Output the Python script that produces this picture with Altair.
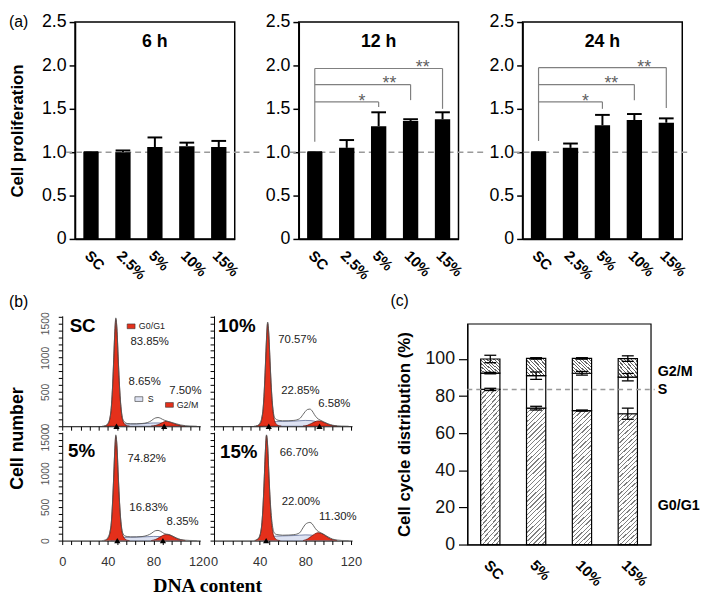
import altair as alt
import pandas as pd

SANS = "Liberation Sans"
SERIF = "Liberation Serif"
RED = "#e4301b"
RED_EDGE = "#5e0c00"
S_FILL = "#dde2f2"
S_EDGE = "#4a5a8a"
BRACKET = "#808080"

# ---------------- (a) cell proliferation ----------------
a_cats = ["SC", "2.5%", "5%", "10%", "15%"]
a_mean_6h = [1.00, 1.00, 1.06, 1.07, 1.06]
a_err_6h = [0.00, 0.02, 0.11, 0.04, 0.07]
a_mean_12h = [1.00, 1.05, 1.30, 1.36, 1.38]
a_err_12h = [0.00, 0.09, 0.16, 0.02, 0.08]
a_mean_24h = [1.00, 1.05, 1.31, 1.37, 1.34]
a_err_24h = [0.00, 0.05, 0.12, 0.07, 0.05]

sig_targets = ["5%", "10%", "15%"]
sig_marks = ["*", "**", "**"]
sig_12h_level = [1.58, 1.78, 1.965]
sig_12h_end = [1.52, 1.60, 1.50]
sig_12h_star_x = [1.48, 2.34, 3.38]
sig_12h_start = 1.12
sig_24h_level = [1.58, 1.78, 1.975]
sig_24h_end = [1.50, 1.60, 1.51]
sig_24h_star_x = [1.47, 2.28, 3.31]
sig_24h_start = 1.13

# ---------------- (b) DNA histograms ----------------
tot_x = [35, 38, 40, 42, 43, 44, 45, 46, 47, 48, 49, 50, 51, 52, 53, 55, 57, 60, 65, 70,
         75, 78, 80, 82, 84, 86, 88, 90, 93, 96, 100, 104, 108, 112, 118]
sc_tot_y = [0, 10, 40, 140, 275, 540, 920, 1340, 1580, 1420, 1040, 670, 390, 210, 110, 55, 40, 35, 35, 40,
            55, 80, 105, 122, 127, 118, 100, 85, 70, 55, 35, 18, 8, 3, 0]
p10_tot_y = [0, 10, 40, 135, 255, 510, 880, 1280, 1520, 1360, 1000, 640, 375, 210, 130, 95, 85, 80, 80, 85,
             110, 170, 215, 245, 250, 225, 170, 125, 90, 65, 35, 15, 6, 2, 0]
p5_tot_y = [0, 10, 45, 145, 265, 530, 900, 1320, 1570, 1410, 1030, 660, 380, 205, 115, 70, 60, 55, 55, 60,
            80, 105, 130, 148, 151, 140, 120, 100, 92, 72, 40, 15, 6, 2, 0]
p15_tot_y = [0, 20, 70, 270, 530, 910, 1330, 1570, 1420, 1040, 680, 420, 250, 150, 110, 90, 85, 80, 82, 88,
             115, 190, 240, 262, 270, 250, 200, 155, 120, 95, 55, 22, 8, 2, 0]

g1_x = [37, 39, 41, 42, 43, 44, 45, 46, 47, 48, 49, 50, 51, 52, 53, 55, 57, 59]
sc_g1_y = [0, 15, 60, 130, 260, 520, 900, 1320, 1560, 1400, 1020, 650, 370, 190, 90, 25, 5, 0]
p10_g1_y = [0, 15, 55, 120, 240, 490, 860, 1260, 1500, 1340, 980, 620, 350, 180, 85, 25, 5, 0]
p5_g1_y = [0, 15, 60, 130, 250, 510, 880, 1300, 1550, 1390, 1010, 640, 360, 185, 90, 25, 5, 0]
p15_g1_x = [36, 38, 40, 41, 42, 43, 44, 45, 46, 47, 48, 49, 50, 51, 52, 54, 56, 58]
p15_g1_y = [0, 15, 60, 130, 260, 520, 900, 1320, 1560, 1400, 1020, 650, 370, 190, 90, 25, 5, 0]

g2_x = [78, 82, 85, 88, 91, 94, 97, 100, 104, 108]
sc_g2_y = [0, 12, 30, 55, 72, 62, 45, 28, 8, 0]
p10_g2_y = [0, 15, 38, 62, 78, 72, 52, 30, 10, 0]
p5_g2_y = [0, 18, 45, 75, 90, 85, 62, 35, 12, 0]
p15_g2_y = [0, 25, 60, 95, 117, 108, 80, 45, 15, 0]

s_x = [43, 47, 50, 55, 60, 65, 70, 75, 80, 85, 90, 95, 100, 104]
sc_s_y = [0, 25, 30, 32, 34, 34, 37, 42, 48, 48, 40, 25, 8, 0]
p10_s_y = [0, 45, 62, 68, 70, 72, 75, 80, 85, 82, 65, 38, 12, 0]
p5_s_y = [0, 35, 45, 48, 50, 52, 55, 58, 62, 60, 48, 28, 9, 0]
p15_s_y = [0, 45, 60, 66, 70, 72, 75, 80, 85, 82, 66, 40, 12, 0]

sc_peaks = [47.6, 89.4]
p10_peaks = [48.0, 92.5]
p5_peaks = [48.3, 88.3]
p15_peaks = [45.7]

sc_pct = ["83.85%", "8.65%", "7.50%"]
sc_pct_x = [76.6, 72.3, 108.0]
sc_pct_y = [1230, 641, 513]
p10_pct = ["70.57%", "22.85%", "6.58%"]
p10_pct_x = [73.2, 75.7, 105.5]
p10_pct_y = [1254, 519, 317]
p5_pct = ["74.82%", "16.83%", "8.35%"]
p5_pct_x = [74.0, 75.7, 105.5]
p5_pct_y = [1212, 481, 269]
p15_pct = ["66.70%", "22.00%", "11.30%"]
p15_pct_x = [74.5, 76.2, 108.5]
p15_pct_y = [1297, 566, 354]

legend_labels = ["G0/G1", "S", "G2/M"]
legend_fill = [RED, S_FILL, RED]
legend_x = [60.4, 67.2, 94.0]
legend_tx = [67.2, 74.9, 100.4]
legend_y = [1457, 396, 311]

# ---------------- (c) cell cycle distribution ----------------
c_cats = ["SC", "5%", "10%", "15%"]
c_g0g1 = [83.6, 73.5, 72.2, 70.5]
c_s = [8.8, 17.5, 20.1, 19.7]
c_g2m = [7.6, 9.3, 8.0, 10.0]
c_err_g0g1 = [0.6, 1.0, 0.3, 3.0]
c_err_s = [0.4, 2.0, 1.0, 2.0]
c_err_g2m = [2.0, 0.4, 0.4, 1.5]
c_phase_names = ["G2/M", "S", "G0/G1"]
c_phase_label_y = [93.0, 83.0, 21.0]


def cat_expr(cats):
    return "[" + ",".join("'" + c + "'" for c in cats) + "][datum.value]"


def spacer(w, h):
    return (alt.Chart(pd.DataFrame({"v": [0]})).mark_point(opacity=0, size=1)
            .encode(x=alt.value(0), y=alt.value(0)).properties(width=w, height=h))


# ======================= (a) panels =======================
A_W, A_H = 162, 220


def panel_a(title, means, errs, first=False, sig=None, dash_right=28):
    n = len(a_cats)
    xax = alt.Axis(values=list(range(n)), labelExpr=cat_expr(a_cats), labelAngle=45,
                   labelAlign="left", labelBaseline="middle", labelPadding=14, labelOffset=-4,
                   labelFontSize=15, labelFontWeight="bold", labelColor="black", labelFlush=False,
                   labelOverlap=False, ticks=False, grid=False, domainColor="black", domainWidth=1.5,
                   title=None)
    ykw = dict(values=[0, 0.5, 1.0, 1.5, 2.0, 2.5],
               labelExpr="datum.value == 0 ? '0' : format(datum.value, '.1f')",
               labelFontSize=18, labelColor="black", labelPadding=3, tickSize=6,
               tickColor="black", tickWidth=1.5, domainColor="black", domainWidth=1.5,
               grid=False, labelFlush=False, labelOverlap=False)
    if first:
        yax = alt.Axis(title="Cell proliferation", titleFontSize=17, titleFontWeight="bold",
                       titleColor="black", titleX=-58, titleBaseline="middle", titleAngle=270,
                       titleAlign="center", **ykw)
    else:
        yax = alt.Axis(title=None, **ykw)
    xs = alt.Scale(domain=[-0.5, n - 0.5], nice=False, zero=False)
    ys = alt.Scale(domain=[0, 2.5], nice=False, zero=True)

    def X(f):
        return alt.X(f, scale=xs, axis=xax)

    def Y(f):
        return alt.Y(f, scale=ys, axis=yax)

    df = pd.DataFrame({"cat": a_cats, "idx": list(range(n)), "mean": means, "err": errs})
    df["top"] = df["mean"] + df["err"]
    df["zero"] = 0.0
    df["lo"] = df["idx"] - 0.24
    df["hi"] = df["idx"] + 0.24
    df["clo"] = df["idx"] - 0.23
    df["chi"] = df["idx"] + 0.23

    layers = []
    ref = pd.DataFrame({"ref": [means[0]]})
    layers.append(alt.Chart(ref).mark_rule(color="#9a9a9a", strokeWidth=1.5, strokeDash=[6, 4], clip=False)
                  .encode(y=Y("ref:Q"), x=alt.value(-9), x2=alt.value(A_W + dash_right)))
    layers.append(alt.Chart(df).mark_bar(color="black")
                  .encode(x=X("lo:Q"), x2="hi:Q", y=Y("mean:Q"), y2="zero:Q"))
    layers.append(alt.Chart(df).mark_rule(color="black", strokeWidth=2)
                  .encode(x=X("idx:Q"), y=Y("mean:Q"), y2="top:Q"))
    layers.append(alt.Chart(df).mark_rule(color="black", strokeWidth=2)
                  .encode(x=X("clo:Q"), x2="chi:Q", y=Y("top:Q")))
    if sig is not None:
        level, end, starx, start = sig
        tidx = [a_cats.index(t) for t in sig_targets]
        sdf = pd.DataFrame({"x0": [0] * len(tidx), "xt": tidx, "level": level, "end": end,
                            "sx": starx, "mark": sig_marks})
        vdf = pd.DataFrame({"x0": [0], "y0": [start], "y1": [max(level)]})
        layers.append(alt.Chart(sdf).mark_rule(color=BRACKET, strokeWidth=1.2)
                      .encode(x=X("x0:Q"), x2="xt:Q", y=Y("level:Q")))
        layers.append(alt.Chart(sdf).mark_rule(color=BRACKET, strokeWidth=1.2)
                      .encode(x=X("xt:Q"), y=Y("level:Q"), y2="end:Q"))
        layers.append(alt.Chart(vdf).mark_rule(color=BRACKET, strokeWidth=1.2)
                      .encode(x=X("x0:Q"), y=Y("y0:Q"), y2="y1:Q"))
        layers.append(alt.Chart(sdf).mark_text(color="#5f5f5f", fontSize=18, baseline="alphabetic", dy=5)
                      .encode(x=X("sx:Q"), y=Y("level:Q"), text="mark:N"))
    layers.append(alt.Chart(pd.DataFrame({"t": [title]}))
                  .mark_text(fontSize=18, fontWeight="bold", color="black")
                  .encode(text="t:N", x=alt.value(A_W / 2), y=alt.value(20)))
    if first:
        layers.append(alt.Chart(pd.DataFrame({"t": ["(a)"]}))
                      .mark_text(fontSize=16, color="black", align="left", baseline="middle")
                      .encode(text="t:N", x=alt.value(-67), y=alt.value(0)))
    return alt.layer(*layers).properties(width=A_W, height=A_H,
                                         view=alt.ViewBackground(stroke="black", strokeWidth=1.5))


a6 = panel_a("6 h", a_mean_6h, a_err_6h, first=True)
a12 = panel_a("12 h", a_mean_12h, a_err_12h,
              sig=(sig_12h_level, sig_12h_end, sig_12h_star_x, sig_12h_start))
a24 = panel_a("24 h", a_mean_24h, a_err_24h,
              sig=(sig_24h_level, sig_24h_end, sig_24h_star_x, sig_24h_start), dash_right=8)

a_inner = alt.hconcat(a6, a12, a24, spacing=65, bounds="flush").resolve_scale(x="independent", y="independent")
# small offset so that panel (a) sits 13 px right of panel (b)
row_a = alt.hconcat(spacer(1, 1), a_inner, spacing=12, bounds="flush").resolve_scale(x="independent", y="independent")

# ======================= (b) panels =======================
HB_W = 140
hx = alt.Scale(domain=[0, 121], nice=False, zero=False)
hy = alt.Scale(domain=[0, 1610], nice=False, zero=True)


def hist_panel(name, name_x, name_y, tot_y, g1x, g1y, g2y, sy, peaks, pct, pct_x, pct_y,
               left, bottom, height, xtitle=False, ytitle=False, legend=False, letter=None):
    xkw = dict(values=list(range(0, 121, 8)), tickSize=4, tickColor="black", tickWidth=1,
               domainColor="black", domainWidth=1, grid=False, labelFlush=False, labelOverlap=False)
    if bottom:
        xkw.update(labels=True, labelExpr="datum.value % 40 == 0 ? format(datum.value, 'd') : ''",
                   labelFontSize=13, labelColor="#333", labelPadding=11)
    else:
        xkw.update(labels=False)
    if xtitle:
        xax = alt.Axis(title="DNA content", titleFont=SERIF, titleFontSize=20, titleFontWeight="bold",
                       titleColor="black", titleX=147, titleY=46, titleBaseline="middle",
                       titleAlign="center", **xkw)
    else:
        xax = alt.Axis(title=None, **xkw)
    ykw = dict(values=list(range(0, 1601, 100)), tickSize=4, tickColor="black", tickWidth=1,
               domainColor="black", domainWidth=1, grid=False, labelFlush=False, labelOverlap=False)
    if left:
        ykw.update(labels=True, labelExpr="datum.value % 500 == 0 ? format(datum.value, 'd') : ''",
                   labelAngle=270, labelAlign="center", labelBaseline="bottom",
                   labelFontSize=10.5, labelColor="#555", labelPadding=8)
    else:
        ykw.update(labels=False)
    if ytitle:
        yax = alt.Axis(title="Cell number", titleFontSize=18, titleFontWeight="bold", titleColor="black",
                       titleX=-45, titleY=124, titleAngle=270, titleBaseline="middle",
                       titleAlign="center", **ykw)
    else:
        yax = alt.Axis(title=None, **ykw)

    def X(f="x:Q"):
        return alt.X(f, scale=hx, axis=xax)

    def Y(f="y:Q"):
        return alt.Y(f, scale=hy, axis=yax)

    layers = [
        alt.Chart(pd.DataFrame({"x": s_x, "y": sy}))
        .mark_area(fill=S_FILL, stroke=S_EDGE, strokeWidth=0.7, interpolate="monotone", clip=True)
        .encode(x=X(), y=Y()),
        alt.Chart(pd.DataFrame({"x": g1x, "y": g1y}))
        .mark_area(fill=RED, stroke=RED_EDGE, strokeWidth=0.7, interpolate="monotone", clip=True)
        .encode(x=X(), y=Y()),
        alt.Chart(pd.DataFrame({"x": g2_x, "y": g2y}))
        .mark_area(fill=RED, stroke=RED_EDGE, strokeWidth=0.7, interpolate="monotone", clip=True)
        .encode(x=X(), y=Y()),
        alt.Chart(pd.DataFrame({"x": tot_x, "y": tot_y}))
        .mark_line(color="#555", strokeWidth=0.9, interpolate="monotone", clip=True)
        .encode(x=X(), y=Y()),
        alt.Chart(pd.DataFrame({"x": peaks, "y": [0] * len(peaks)}))
        .mark_point(shape="triangle-up", filled=True, color="black", size=40, opacity=1)
        .encode(x=X(), y=Y()),
        alt.Chart(pd.DataFrame({"x": pct_x, "y": pct_y, "t": pct}))
        .mark_text(fontSize=11.5, color="#222")
        .encode(x=X(), y=Y(), text="t:N"),
        alt.Chart(pd.DataFrame({"x": [name_x], "y": [name_y], "t": [name]}))
        .mark_text(fontSize=19, fontWeight="bold", color="black")
        .encode(x=X(), y=Y(), text="t:N"),
    ]
    if legend:
        ldf = pd.DataFrame({"x": legend_x, "tx": legend_tx, "y": legend_y,
                            "t": legend_labels, "fill": legend_fill})
        layers.append(alt.Chart(ldf)
                      .mark_point(shape="M-1,-0.6L1,-0.6L1,0.6L-1,0.6Z", filled=True, stroke="#333",
                                  strokeWidth=0.6, size=64, opacity=1)
                      .encode(x=X(), y=Y(), fill=alt.Fill("fill:N", scale=None)))
        layers.append(alt.Chart(ldf).mark_text(fontSize=9, color="#222", align="left")
                      .encode(x=X("tx:Q"), y=Y(), text="t:N"))
    if letter:
        layers.append(alt.Chart(pd.DataFrame({"t": [letter]}))
                      .mark_text(fontSize=16, color="black", align="left", baseline="middle")
                      .encode(text="t:N", x=alt.value(-54), y=alt.value(-14)))
    return alt.layer(*layers).properties(width=HB_W, height=height)


hb_sc = hist_panel("SC", 17.9, 1457, sc_tot_y, g1_x, sc_g1_y, sc_g2_y, sc_s_y, sc_peaks,
                   sc_pct, sc_pct_x, sc_pct_y, left=True, bottom=False, height=112,
                   ytitle=True, legend=True, letter="(b)")
hb_10 = hist_panel("10%", 20.0, 1467, p10_tot_y, g1_x, p10_g1_y, p10_g2_y, p10_s_y, p10_peaks,
                   p10_pct, p10_pct_x, p10_pct_y, left=False, bottom=False, height=112)
hb_5 = hist_panel("5%", 17.0, 1322, p5_tot_y, g1_x, p5_g1_y, p5_g2_y, p5_s_y, p5_peaks,
                  p5_pct, p5_pct_x, p5_pct_y, left=True, bottom=True, height=110, xtitle=True)
hb_15 = hist_panel("15%", 21.7, 1320, p15_tot_y, p15_g1_x, p15_g1_y, p15_g2_y, p15_s_y, p15_peaks,
                   p15_pct, p15_pct_x, p15_pct_y, left=False, bottom=True, height=110)

grid_b = alt.concat(hb_sc, hb_10, hb_5, hb_15, columns=2, spacing={"row": 6, "column": 14},
                    bounds="flush").resolve_scale(x="independent", y="independent")

# ======================= (c) panel =======================
C_W, C_H = 186, 224
C_TOP = 119
cx = alt.Scale(domain=[-0.5, len(c_cats) - 0.5], nice=False, zero=False)
cy = alt.Scale(domain=[0, C_TOP], nice=False, zero=True)
xax_c = alt.Axis(values=list(range(len(c_cats))), labelExpr=cat_expr(c_cats), labelAngle=45,
                 labelAlign="left", labelBaseline="middle", labelPadding=18, labelOffset=-4,
                 labelFontSize=15, labelFontWeight="bold", labelColor="black", labelFlush=False,
                 labelOverlap=False, ticks=False, grid=False, domainColor="black", domainWidth=1.2,
                 title=None)
yax_c = alt.Axis(values=[0, 20, 40, 60, 80, 100], labelFontSize=18, labelColor="#111", labelPadding=4,
                 tickSize=9, tickColor="black", tickWidth=1.2, domainColor="black", domainWidth=1.2,
                 grid=False, labelFlush=False, labelOverlap=False,
                 title="Cell cycle distribution (%)", titleFontSize=17, titleFontWeight="bold",
                 titleColor="black", titleX=-64, titleBaseline="middle", titleAngle=270,
                 titleAlign="center")


def CX(f):
    return alt.X(f, scale=cx, axis=xax_c)


def CY(f):
    return alt.Y(f, scale=cy, axis=yax_c)


def hatch(x1, y1, x2, y2, n, color, frac):
    stops = []
    for i in range(n):
        stops.append(alt.GradientStop(color=color, offset=i / n))
        stops.append(alt.GradientStop(color=color, offset=(i + frac) / n))
        stops.append(alt.GradientStop(color="white", offset=(i + frac) / n))
        stops.append(alt.GradientStop(color="white", offset=(i + 1) / n))
    return alt.LinearGradient(gradient="linear", stops=stops, x1=x1, y1=y1, x2=x2, y2=y2)


HALF = 0.21
bw = C_W / len(c_cats) * 2 * HALF
ppu = C_H / C_TOP
h1 = sum(c_g0g1) / len(c_g0g1) * ppu
h3 = sum(c_g2m) / len(c_g2m) * ppu
b1 = h1 / bw
t1 = (1 + b1) / (1 + b1 * b1)
fill_g1 = hatch(0, 0, t1, t1 * b1, max(1, round((bw + h1) / 1.414 / 3.2)), "#808080", 0.28)
b3 = -h3 / bw
t3 = (1 - b3) / (1 + b3 * b3)
fill_g2 = hatch(0, 1, t3, 1 + t3 * b3, max(1, round((bw + h3) / 1.414 / 2.6)), "#666666", 0.35)

seg_rows = []
err_rows = []
for i, cat in enumerate(c_cats):
    s1 = c_g0g1[i]
    s2 = s1 + c_s[i]
    s3 = s2 + c_g2m[i]
    seg_rows.append({"cat": cat, "phase": "G0/G1", "lo": 0.0, "hi": s1, "xl": i - HALF, "xh": i + HALF})
    seg_rows.append({"cat": cat, "phase": "S", "lo": s1, "hi": s2, "xl": i - HALF, "xh": i + HALF})
    seg_rows.append({"cat": cat, "phase": "G2/M", "lo": s2, "hi": s3, "xl": i - HALF, "xh": i + HALF})
    for top, err in [(s1, c_err_g0g1[i]), (s2, c_err_s[i]), (s3, c_err_g2m[i])]:
        err_rows.append({"idx": i, "elo": top - err, "ehi": top + err, "cl": i - 0.13, "ch": i + 0.13})
seg_df = pd.DataFrame(seg_rows)
err_df = pd.DataFrame(err_rows)

c_layers = []
for phase, fill in [("G0/G1", fill_g1), ("S", "white"), ("G2/M", fill_g2)]:
    c_layers.append(alt.Chart(seg_df[seg_df["phase"] == phase])
                    .mark_bar(fill=fill, stroke="black", strokeWidth=1.2)
                    .encode(x=CX("xl:Q"), x2="xh:Q", y=CY("lo:Q"), y2="hi:Q"))
c_layers.append(alt.Chart(pd.DataFrame({"ref": [c_g0g1[0]]}))
                .mark_rule(color="#999999", strokeWidth=1.5, strokeDash=[5, 4], clip=False)
                .encode(y=CY("ref:Q"), x=alt.value(0), x2=alt.value(C_W + 4)))
c_layers.append(alt.Chart(err_df).mark_rule(color="black", strokeWidth=1.3)
                .encode(x=CX("idx:Q"), y=CY("elo:Q"), y2="ehi:Q"))
c_layers.append(alt.Chart(err_df).mark_rule(color="black", strokeWidth=1.3)
                .encode(x=CX("cl:Q"), x2="ch:Q", y=CY("elo:Q")))
c_layers.append(alt.Chart(err_df).mark_rule(color="black", strokeWidth=1.3)
                .encode(x=CX("cl:Q"), x2="ch:Q", y=CY("ehi:Q")))
c_layers.append(alt.Chart(pd.DataFrame({"t": c_phase_names, "y": c_phase_label_y}))
                .mark_text(align="left", baseline="middle", fontSize=14.5, fontWeight="bold", color="black")
                .encode(x=alt.value(C_W + 7), y=CY("y:Q"), text="t:N"))
c_layers.append(alt.Chart(pd.DataFrame({"t": ["(c)"]}))
                .mark_text(fontSize=16, color="black", align="left", baseline="middle")
                .encode(text="t:N", x=alt.value(-78), y=alt.value(-23)))
panel_c = alt.layer(*c_layers).properties(width=C_W, height=C_H,
                                          view=alt.ViewBackground(stroke="black", strokeWidth=1.2))
# panel (c) frame starts 8 px below the top of the histogram grid
col_c = alt.vconcat(spacer(1, 1), panel_c, spacing=7, bounds="flush").resolve_scale(x="independent", y="independent")

row_b = alt.hconcat(grid_b, col_c, spacing=27).resolve_scale(x="independent", y="independent")

chart = (alt.vconcat(row_a, row_b, spacing=9, background="white",
                     padding={"left": 0, "top": 0, "right": 0, "bottom": 0})
         .resolve_scale(x="independent", y="independent")
         .configure(font=SANS)
         .configure_view(stroke="transparent"))

chart.save("out.html", embed_options={"renderer": "svg", "actions": False})
